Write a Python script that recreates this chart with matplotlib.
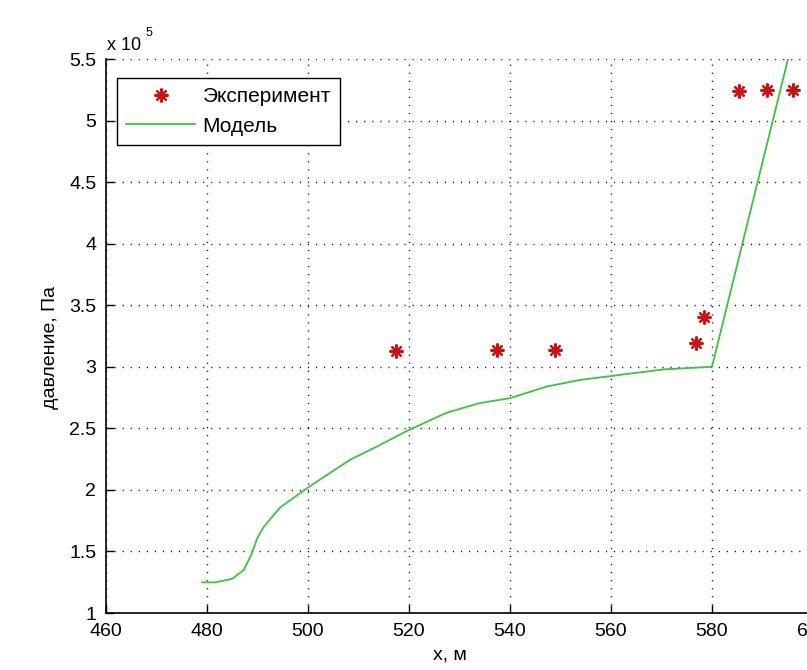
import matplotlib
matplotlib.use("Agg")
import matplotlib.pyplot as plt

# ---- data (pressure in units of 1e5 Pa) ----
exp_x = [517.5, 537.5, 549.0, 576.9, 578.5, 585.4, 590.9, 596.0]
exp_y = [3.13, 3.14, 3.14, 3.195, 3.405, 5.24, 5.25, 5.25]

model_x = [479.0, 481.7, 485.0, 487.3, 488.9, 489.9, 491.2, 494.5, 500.0, 504.4,
           508.4, 513.7, 519.3, 527.4, 534.0, 540.0, 547.3, 553.9, 560.0, 570.5,
           580.0, 598.0]
model_y = [1.249, 1.249, 1.278, 1.35, 1.484, 1.604, 1.698, 1.858, 2.019, 2.139,
           2.246, 2.353, 2.473, 2.626, 2.705, 2.745, 2.84, 2.893, 2.925, 2.979,
           3.0, 5.99]

xticks = [460, 480, 500, 520, 540, 560, 580, 600, 620]
yticks = [1, 1.5, 2, 2.5, 3, 3.5, 4, 4.5, 5, 5.5]
ytick_labels = ["1", "1.5", "2", "2.5", "3", "3.5", "4", "4.5", "5", "5.5"]
legend_labels = ["Эксперимент", "Модель"]
xlabel = "x, м"
ylabel = "давление, Па"

plt.rcParams['font.family'] = ['Liberation Sans', 'DejaVu Sans']

W, H = 807, 670
fig = plt.figure(figsize=(W / 100, H / 100), dpi=100)
left_px, right_px, top_px, bottom_px = 106.0, 914.0, 59.0, 613.0
ax = fig.add_axes([left_px / W, 1 - bottom_px / H, (right_px - left_px) / W,
                   (bottom_px - top_px) / H])

ax.plot(model_x, model_y, color='#3cc43c', lw=1.3, label=legend_labels[1], zorder=3)
ax.plot(exp_x, exp_y, linestyle='none', marker=(8, 2, 0), markersize=10,
        markeredgewidth=1.6, color='#e01515', markeredgecolor='#d01010',
        label=legend_labels[0], zorder=4)

ax.set_xlim(460, 620)
ax.set_ylim(1, 5.5)
ax.set_xticks(xticks)
ax.set_yticks(yticks)
ax.set_yticklabels(ytick_labels)
ax.tick_params(direction='in', length=5.5, width=1, labelsize=14, pad=7,
               top=False, right=False)
ax.grid(True, color='black', linestyle=(0, (0.8, 5)), lw=1.0)
ax.set_axisbelow(True)
for s in ['top', 'right']:
    ax.spines[s].set_visible(False)
for s in ['left', 'bottom']:
    ax.spines[s].set_linewidth(1.2)

ax.set_xlabel(xlabel, fontsize=14)
ax.xaxis.set_label_coords((450 - left_px) / (right_px - left_px),
                          -(646 - bottom_px) / (bottom_px - top_px))
ax.set_ylabel(ylabel, fontsize=14)
ax.yaxis.set_label_coords(-(left_px - 59) / (right_px - left_px), 0.48)

# exponent label
fig.text(107 / W, 1 - 50 / H, "x 10", fontsize=13, ha='left', va='baseline')
fig.text(146 / W, 1 - 36 / H, "5", fontsize=9, ha='left', va='baseline')

h, l = ax.get_legend_handles_labels()
leg = ax.legend([h[1], h[0]], [l[1], l[0]], loc='upper left',
                bbox_to_anchor=(117 / W, 1 - 78 / H), bbox_transform=fig.transFigure,
                borderaxespad=0, fancybox=False, framealpha=1, edgecolor='black',
                fontsize=15, handlelength=3.3, handletextpad=0.35,
                labelspacing=0.5, borderpad=0.45)
leg.get_frame().set_linewidth(1.0)

fig.savefig("out.png", dpi=100)
